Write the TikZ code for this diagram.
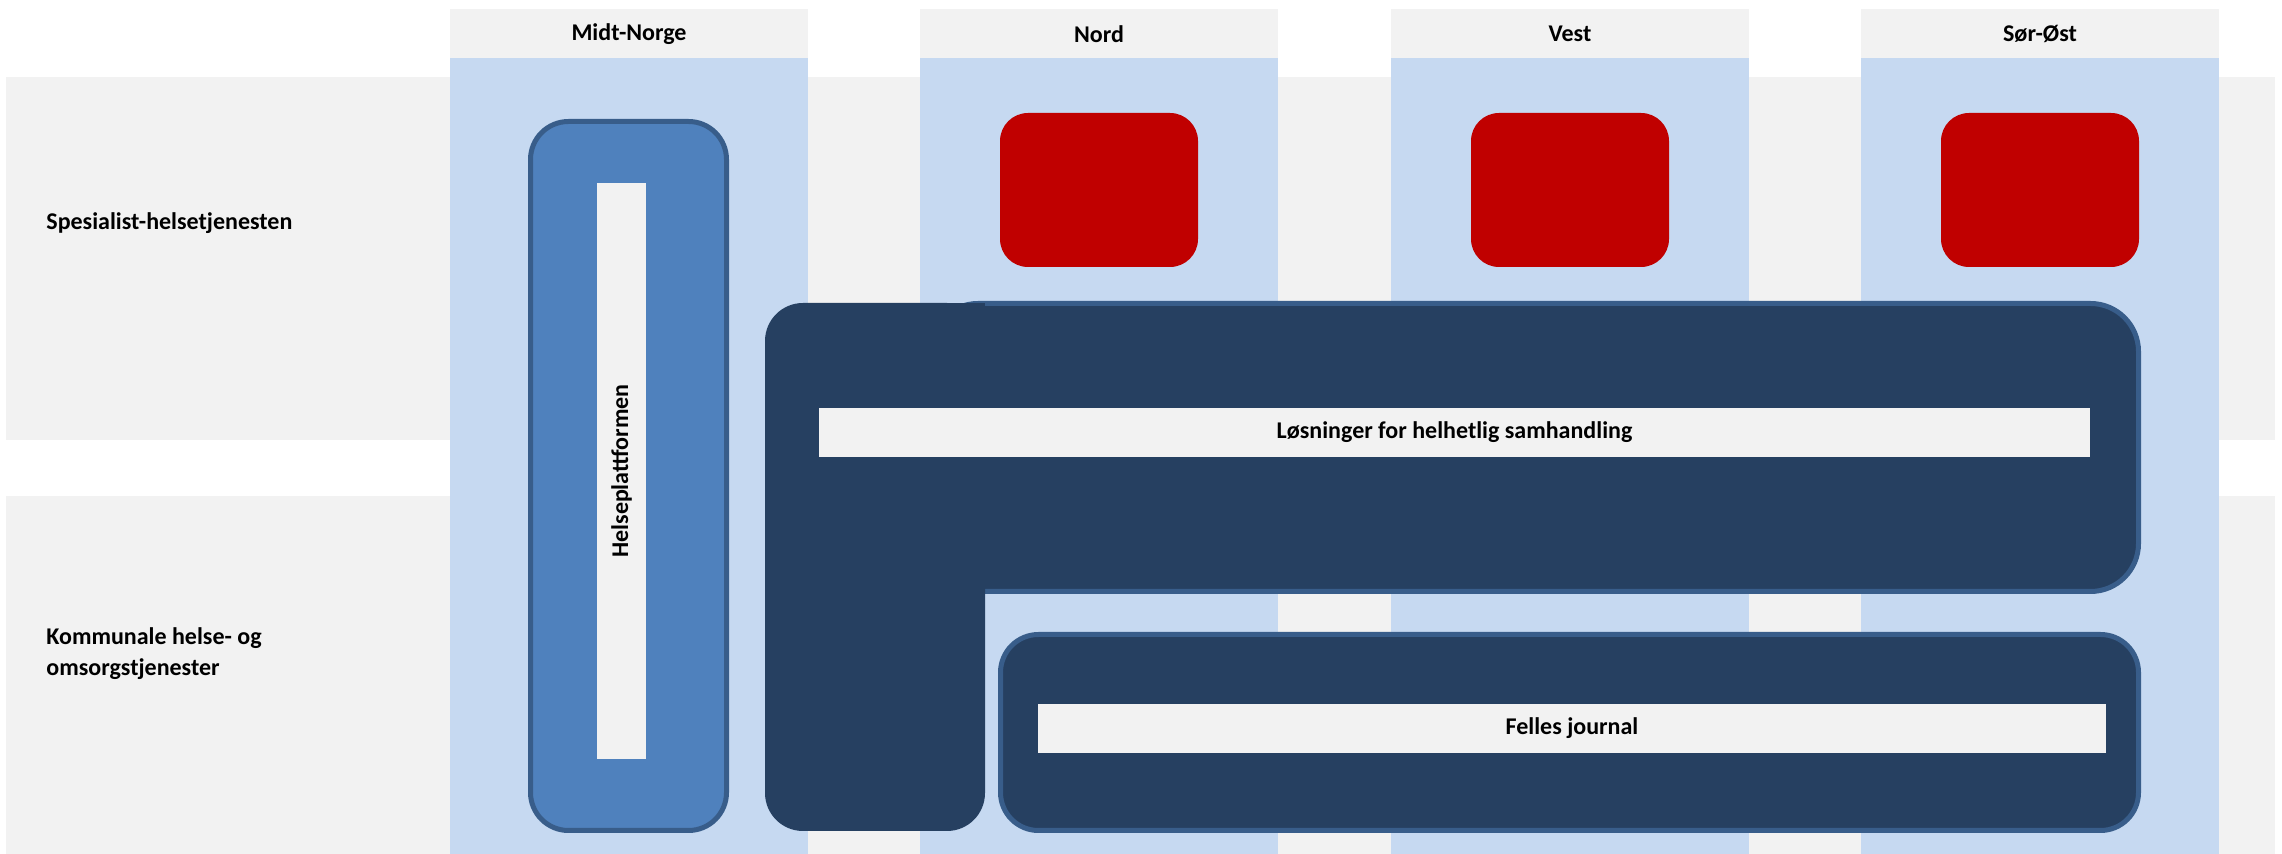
\documentclass[tikz,border=0pt]{standalone}
\usepackage{fontspec}
\setmainfont{Carlito}
\usetikzlibrary{positioning}
\definecolor{bandgray}{HTML}{F2F2F2}
\definecolor{colblue}{HTML}{C6D9F1}
\definecolor{darknavy}{HTML}{264061}
\definecolor{edgeblue}{HTML}{385D8A}
\definecolor{midblue}{HTML}{4F81BD}
\definecolor{boxred}{HTML}{C00000}

\begin{document}
\begin{tikzpicture}[x=0.5pt, y=-0.5pt,
    lbl/.style={font=\bfseries\fontsize{12}{15.5}\selectfont, inner sep=0pt},
    navybox/.style={fill=darknavy, draw=edgeblue, line width=2.5pt}]
  \useasboundingbox (0,0) rectangle (2282,854);

  % row bands
  \fill[bandgray] (6,77) rectangle (2275,440);
  \fill[bandgray] (6,496) rectangle (2275,854);
  \node[lbl, anchor=west] (spes) at (46,223) {Spesialist-helsetjenesten};
  \node[lbl, anchor=west, align=left] (komm) at (46,654) {Kommunale helse- og\\omsorgstjenester};

  % region columns
  \foreach \xl/\name/\txt in {450/midt/Midt-Norge, 920/nord/Nord, 1391/vest/Vest, 1861/sor/Sør-Øst} {
    \fill[bandgray] (\xl,9) rectangle ++(358,49);
    \fill[colblue] (\xl,58) rectangle (\xl+358,854);
    \node[lbl] (hdr-\name) at (\xl+179,34) {\txt};
  }

  % red boxes
  \foreach \xl in {1000, 1471, 1941}
    \fill[boxred, rounded corners=14pt] (\xl,113) rectangle ++(198,154);

  % Helseplattformen
  \draw[fill=midblue, draw=edgeblue, line width=2.5pt, rounded corners=19pt] (530.5,121.5) rectangle (726.5,830.5);
  \fill[bandgray] (597,183) rectangle (646,759);
  \node[lbl, rotate=90] (helse) at (621.5,471) {Helseplattformen};

  % samhandling
  \draw[navybox, rounded corners=24pt] (930,303.5) rectangle (2138.5,591.5);
  \fill[darknavy, rounded corners=19pt] (765,303) rectangle (985,831);
  \fill[darknavy] (940,303) rectangle (985,350);
  \fill[bandgray] (819,408) rectangle (2090,457);
  \node[lbl] (losning) at (1454.5,432.5) {Løsninger for helhetlig samhandling};

  % felles journal
  \draw[navybox, rounded corners=19pt] (1000.5,634.5) rectangle (2138.5,830.5);
  \fill[bandgray] (1038,704) rectangle (2106,753);
  \node[lbl] (felles) at (1572,728.5) {Felles journal};
\end{tikzpicture}
\end{document}
